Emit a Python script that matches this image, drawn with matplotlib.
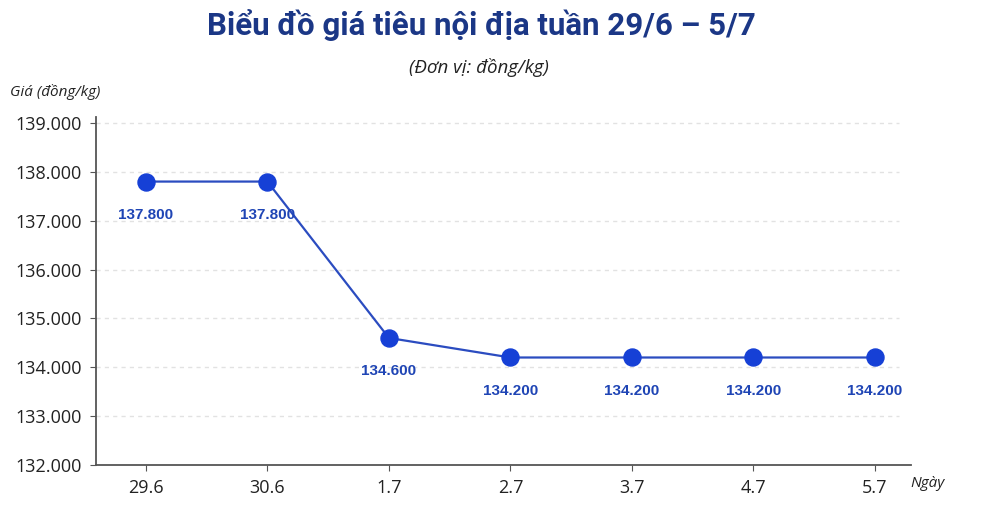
import numpy as np
import matplotlib
matplotlib.use("Agg")
import matplotlib.pyplot as plt

days = ["29.6", "30.6", "1.7", "2.7", "3.7", "4.7", "5.7"]
prices = [137.8, 137.8, 134.6, 134.2, 134.2, 134.2, 134.2]
yticks = [132, 133, 134, 135, 136, 137, 138, 139]

plt.rcParams['font.family'] = ['Open Sans', 'DejaVu Sans']

fig = plt.figure(figsize=(9.92, 5.28), dpi=100)
ax = fig.add_axes([0.0968, 0.1193, 0.822, 0.659])

x = np.arange(len(days))
ax.plot(x, prices, color='#2b4cc0', lw=1.6, zorder=3)
ax.scatter(x, prices, s=150, color='#1640d6', zorder=4)
for xi, p in zip(x, prices):
    ax.annotate("{:.3f}".format(p), (xi, p), xytext=(0, -24), textcoords='offset points',
                ha='center', va='center', fontsize=11, fontweight='bold',
                color='#1f45b5', family=['Liberation Sans', 'DejaVu Sans'])

ax.set_xlim(-0.41, 6.3)
ax.set_ylim(132, 139.12)
ax.set_xticks(x)
ax.set_xticklabels(days, fontsize=13, color='#222222')
ax.set_yticks(yticks)
ax.set_yticklabels(["{:.3f}".format(v) for v in yticks], fontsize=13, color='#222222')
ax.tick_params(axis='both', length=4, color='#555555', direction='out', pad=6)

for v in yticks[1:]:
    ax.plot([-0.41, 6.2], [v, v], color='#e2e2e2', lw=1, ls=(0, (3, 3)), zorder=1)

for s in ['top', 'right']:
    ax.spines[s].set_visible(False)
for s in ['left', 'bottom']:
    ax.spines[s].set_color('#555555')
    ax.spines[s].set_linewidth(1.3)

fig.text(0.485, 0.952, "Biểu đồ giá tiêu nội địa tuần 29/6 – 5/7", ha='center', va='center',
         fontsize=22.5, fontweight='bold', color='#1b3786',
         family=['Roboto', 'DejaVu Sans'])
fig.text(0.483, 0.873, "(Đơn vị: đồng/kg)", ha='center', va='center',
         fontsize=13.5, style='italic', color='#222222')
fig.text(0.01, 0.826, "Giá (đồng/kg)", ha='left', va='center',
         fontsize=11, style='italic', color='#222222')
fig.text(0.918, 0.085, "Ngày", ha='left', va='center',
         fontsize=11, style='italic', color='#222222')

fig.savefig("out.png", dpi=100, facecolor='white')
